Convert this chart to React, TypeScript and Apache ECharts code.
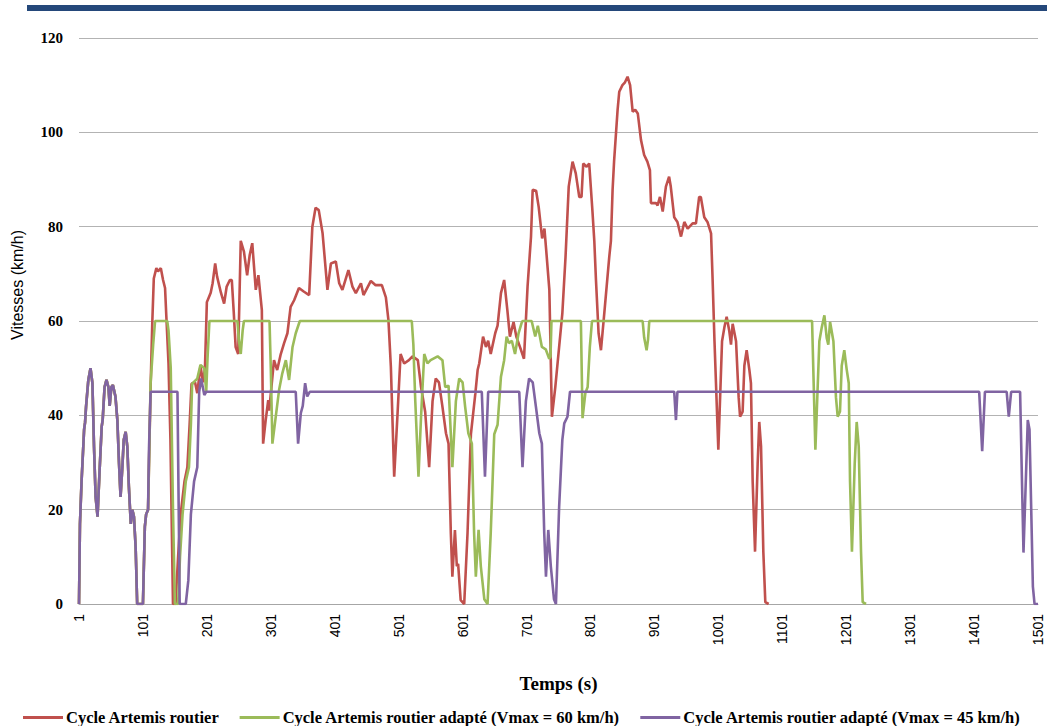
import React, { useEffect, useRef } from "react";
import * as echarts from "echarts";

// Time axis: value t is seconds from start; tick label shows t + 1 (1, 101, ... 1501)
const xTickLabels = ["1", "101", "201", "301", "401", "501", "601", "701", "801", "901", "1001", "1101", "1201", "1301", "1401", "1501"];
const yTicks = [0, 20, 40, 60, 80, 100, 120];

const seriesNames = [
  "Cycle Artemis routier",
  "Cycle Artemis routier adapté (Vmax = 60 km/h)",
  "Cycle Artemis routier adapté (Vmax = 45 km/h)",
];
const seriesColors = ["#C0504D", "#9BBB59", "#8064A2"];

// Shared start of the three cycles (speeds below 45 km/h), [t, km/h]
const commonStart: number[][] = [
  [0, 0], [0.5, 0], [1.5, 17], [4, 26], [8, 37], [9.5, 38.5], [11, 41.8], [14.6, 47.5], [18, 50],
  [21, 46.8], [23.5, 33.3], [26, 22.7], [29, 18.5], [32, 27.7], [35.5, 37.6], [37, 39], [40, 46],
  [43, 47.5], [46, 46], [48, 42], [50.6, 46], [53, 46.4], [57, 44], [60, 39], [62.6, 29.8], [65, 22.7],
  [67.8, 29], [70, 34.8], [73, 36.5], [75.6, 33.3], [78, 24.9], [81, 17], [83.5, 20], [86, 18.5],
  [88.6, 12], [91, 0], [100, 0], [103, 16.4], [105, 19], [108, 20],
];

// Cycle Artemis routier (after the shared start)
const redRest: number[][] = [
  [110, 33], [112, 46], [114.7, 60], [117, 69], [121, 71.2], [123.5, 70.5], [128, 71.2], [131.5, 68.7],
  [134.6, 67], [136.6, 61], [140, 51], [143, 35], [147, 0], [151, 0], [155, 10], [159, 19], [165, 26],
  [169.5, 29], [173, 38], [176, 46.7], [181.5, 47], [185, 44.7], [190, 50.5], [194, 47], [197, 50],
  [200, 64], [203, 65], [206, 66], [209, 68], [213, 72.2], [216, 69.4], [222, 66], [227, 63.7],
  [231, 67.3], [236, 68.7], [239, 68.7], [242, 62], [245, 54.5], [249, 53], [253, 77], [258, 74.7],
  [263, 69.7], [267, 74], [271, 76.5], [276.5, 66.6], [280.6, 69.7], [286, 62.3], [288, 34], [292, 39],
  [296, 43.2], [297.5, 41], [305, 51.7], [310, 49.6], [315.6, 53], [320.8, 55.3], [326, 57.4], [331, 63],
  [336.5, 64.4], [344, 67], [352, 66.2], [360, 65.5], [365, 80], [370, 84], [375, 83.5], [381, 78.6],
  [388.6, 66.6], [394, 72.2], [401.7, 72.6], [407, 68], [412, 66.6], [421.4, 70.8], [427.7, 67.3],
  [433, 65.9], [441, 68], [445, 65.5], [456.5, 68.5], [464, 67.6], [473.7, 67.6], [480, 65], [484, 60.2],
  [487.8, 50.3], [493, 27], [498, 39.7], [503, 53], [508.6, 51], [516, 51.7], [521.6, 52.5], [530, 51.7],
  [535, 46], [541.5, 40.7], [547.7, 29], [553, 43], [558, 47.8], [563, 47], [568.5, 41.8], [574, 36.2],
  [578, 34], [581.6, 15], [584, 5.8], [588, 15.7], [591, 8], [593, 8.5], [597, 0.8], [602.5, 0],
  [607.7, 15], [613, 36], [620, 44.7], [623.5, 49.6], [626, 51], [632, 56.7], [636.5, 54.5], [640, 55.8],
  [644, 53], [651, 57.4], [654.7, 59], [660, 65.9], [665, 68.7], [670, 62.3], [674, 56.7], [679.7, 59.8],
  [684, 56.7], [689.7, 54.5], [696, 52], [701.6, 67.3], [707, 77.9], [709.6, 87.8], [715, 87.6],
  [719, 84.2], [724.4, 77.5], [728, 79.6], [730.6, 75.3], [735.7, 66.6], [739.7, 39.7], [745, 46],
  [751, 54.5], [756, 61.6], [761, 73.6], [766, 88.5], [772, 93.8], [777, 91.3], [782.5, 86.3],
  [786, 86.3], [788.7, 93.4], [794, 92.7], [798, 93.4], [803, 83.5], [806, 77], [808.6, 68.7],
  [812.7, 57.4], [816.4, 53.8], [821.6, 61.6], [829.4, 73.6], [832, 77], [834.6, 87.8], [837, 94],
  [842.4, 104.7], [845, 108.6], [850, 110], [854, 110.6], [858, 111.8], [862, 110], [866, 104.4],
  [870, 104.8], [874, 104], [879, 98.4], [884, 95.2], [889, 93.8], [893, 92], [894.6, 85], [902.5, 85],
  [905, 84.5], [908.7, 86.3], [913, 83.2], [918, 88.5], [923, 90.6], [925.6, 88.5], [931, 82], [936, 81],
  [941.6, 77.9], [946.8, 81], [952, 79.6], [959.8, 80.7], [965, 80.7], [970, 86.3], [972.6, 86.3],
  [978, 82], [983, 81], [988.6, 78.6], [991, 69], [994, 55.7], [1000, 32.7], [1005.8, 55.7],
  [1009.4, 58.6], [1013, 60.9], [1017, 58], [1019.8, 55], [1022.4, 59.4], [1027.7, 55.7], [1031.8, 43.8],
  [1034, 39.7], [1038, 40.8], [1040.7, 50.5], [1044.3, 53.8], [1048.5, 49.7], [1051, 46.8], [1053.7, 26],
  [1057.4, 11.1], [1061.5, 29.7], [1064, 38.6], [1066.8, 33.4], [1070.4, 11], [1073.5, 0.4], [1078.7, 0],
];

// Cycle adapté Vmax = 60 km/h (after the shared start)
const greenRest: number[][] = [
  [110, 33], [112, 46.8], [116, 55], [119, 60], [138, 60], [140, 58], [143.5, 50], [147, 20], [150, 0],
  [155, 0], [158, 10], [162, 19], [167, 26], [172, 29], [175, 38], [177, 46.7], [185, 47.8], [190, 50.7],
  [196, 50], [199, 45], [201, 52], [204, 60], [247.8, 60], [250, 56], [253, 53], [256, 58], [258, 60],
  [298, 60], [300, 50], [302.5, 34], [308, 40], [313, 45.4], [318, 48.9], [323.5, 51.7], [328.6, 47.5],
  [334, 54.5], [339, 57.4], [345.4, 60], [520.5, 60], [523, 55], [526, 43], [531, 27], [535, 39.7],
  [540, 53], [545, 51], [550, 51.7], [561, 52.5], [568.5, 51.7], [572.8, 46], [578, 46.3], [584, 29],
  [589.5, 43], [594.7, 47.8], [600, 47], [604, 41.8], [609, 36.2], [614.5, 34], [618, 15], [620.7, 5.8],
  [625, 15.7], [628.5, 8], [634, 1], [639, 0], [644, 15], [649.5, 36], [654.7, 38], [660, 48.2],
  [665, 51.7], [668.8, 56.7], [672.5, 55.3], [677, 55.8], [682, 53], [687.5, 57.4], [692.8, 59.8],
  [694, 60], [708, 60], [713.6, 56.7], [717.7, 59], [724, 54.5], [730, 54], [735.5, 52], [737.5, 52.4],
  [739, 60], [785, 60], [787.6, 39.4], [792, 44.7], [795.6, 46], [799, 54.5], [802.4, 60], [881.6, 60],
  [884, 56.5], [887.8, 53.8], [890, 56], [892, 60], [1146.6, 60], [1151.8, 32.7], [1158, 55.7],
  [1161.7, 58.6], [1165.9, 61.2], [1169.5, 56.4], [1172, 55], [1174.8, 59.8], [1180, 55.7], [1184, 43.8],
  [1186.7, 39.7], [1190.3, 40.8], [1193, 50.5], [1197, 53.8], [1200.8, 49.7], [1204, 46.8], [1206, 26],
  [1209, 11.1], [1213.3, 29.7], [1216.4, 38.6], [1219.6, 33.4], [1223.2, 11], [1225.8, 0.4], [1231, 0],
];

// Cycle adapté Vmax = 45 km/h (after the shared start)
const purpleRest: number[][] = [
  [109.5, 33], [112, 45], [154, 45], [157.5, 0], [167, 0], [171, 5], [175, 19], [180, 26], [185, 29],
  [188, 45], [191, 47.8], [196, 44.3], [199, 45], [339, 45], [342.7, 34], [347, 40.5], [350, 42],
  [353.7, 46.8], [357, 44], [361, 45], [630, 45], [635, 27], [640, 45], [688.6, 45], [693.7, 29],
  [699, 43], [704, 47.8], [709.7, 47], [714.7, 41.8], [720, 36.2], [724, 34], [727.7, 15], [730.4, 5.8],
  [734, 15.7], [738, 8], [743, 1], [746, 0], [751, 20.6], [756, 34.8], [759, 38.3], [764, 39.7],
  [768, 45], [931, 45], [933.7, 39], [936, 45], [1408, 45], [1412.7, 32.4], [1417, 45], [1451, 45],
  [1454.3, 39.7], [1458, 45], [1472, 45], [1477.3, 10.9], [1484, 39], [1486.7, 37], [1492, 3.7],
  [1494.6, 0], [1500, 0],
];

const seriesData = [
  commonStart.concat(redRest),
  commonStart.concat(greenRest),
  commonStart.concat(purpleRest),
];

export default function App() {
  const ref = useRef<HTMLDivElement>(null);

  useEffect(() => {
    if (!ref.current) return;
    const chart = echarts.init(ref.current, null, { renderer: "svg" });
    chart.setOption({
      animation: false,
      backgroundColor: "#ffffff",
      grid: { left: 79, right: 9, top: 38, bottom: 122, containLabel: false },
      xAxis: {
        type: "value",
        min: 0,
        max: 1500,
        interval: 100,
        name: "Temps (s)",
        nameLocation: "middle",
        nameGap: 70,
        nameTextStyle: { fontFamily: "Liberation Serif", fontWeight: "bold", fontSize: 19, color: "#000" },
        axisLine: { show: true, lineStyle: { color: "#A6A6A6", width: 1 } },
        axisTick: { show: false },
        splitLine: { show: false },
        axisLabel: {
          rotate: 90,
          margin: 10,
          fontFamily: "Liberation Sans",
          fontSize: 14,
          color: "#000",
          formatter: (v: number) => xTickLabels[Math.round(v / 100)] ?? String(v + 1),
        },
      },
      yAxis: {
        type: "value",
        min: yTicks[0],
        max: yTicks[yTicks.length - 1],
        interval: 20,
        axisLine: { show: false },
        axisTick: { show: false },
        splitLine: { show: true, lineStyle: { color: "#B3B3B3", width: 1 } },
        axisLabel: {
          margin: 16,
          fontFamily: "Liberation Serif",
          fontWeight: "bold",
          fontSize: 15,
          color: "#000",
        },
      },
      legend: {
        left: 18,
        top: 704,
        width: 1040,
        icon: "rect",
        itemWidth: 40,
        itemHeight: 3,
        itemGap: 20,
        textStyle: { fontFamily: "Liberation Serif", fontWeight: "bold", fontSize: 16.5, color: "#000", padding: [0, 0, 0, -2] },
        data: seriesNames,
      },
      graphic: [
        { type: "rect", shape: { x: 27, y: 5, width: 1020, height: 6 }, style: { fill: "#24487A" } },
        {
          type: "text",
          x: 17,
          y: 285,
          rotation: Math.PI / 2,
          style: {
            text: "Vitesses (km/h)",
            fontFamily: "Liberation Sans",
            fontSize: 16,
            fill: "#000",
            align: "center",
            verticalAlign: "middle",
          },
        },
      ],
      series: seriesNames.map((name, i) => ({
        name,
        type: "line",
        data: seriesData[i],
        showSymbol: false,
        symbol: "none",
        smooth: false,
        lineStyle: { color: seriesColors[i], width: 2.6 },
        itemStyle: { color: seriesColors[i] },
        z: 2 + i,
      })),
    });
    return () => chart.dispose();
  }, []);

  return <div ref={ref} style={{ width: 1047, height: 726, position: "absolute", left: 0, top: 0 }} />;
}
